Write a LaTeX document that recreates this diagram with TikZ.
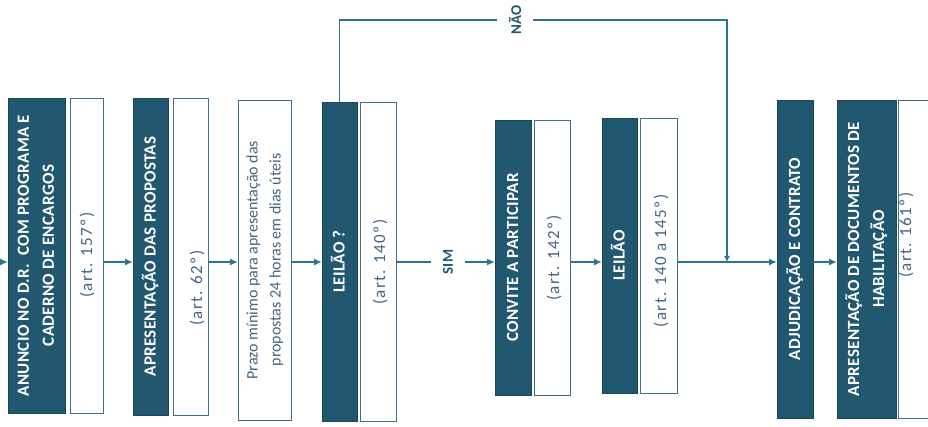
\documentclass[tikz,border=0pt]{standalone}
\usepackage{fontspec}
\setmainfont{Carlito}
\usetikzlibrary{arrows.meta,calc}
\definecolor{darkb}{RGB}{33,88,112}
\definecolor{linec}{RGB}{42,118,140}
\definecolor{edgec}{RGB}{70,110,135}
\definecolor{artc}{RGB}{70,100,130}
\tikzset{
  box/.style={rectangle, inner sep=0pt, outer sep=0pt, line width=0.8pt},
  dbox/.style={box, fill=darkb, draw=darkb!80!black, text=white, font=\bfseries\fontsize{17}{25}\selectfont\addfontfeatures{LetterSpace=2}},
  wbox/.style={box, fill=white, draw=edgec},
  arttext/.style={inner sep=0pt, text=artc, font=\fontsize{17}{20}\selectfont\addfontfeatures{LetterSpace=8}},
  conn/.style={draw=linec, line width=1.8pt},
  arr/.style={conn, -{Latex[length=8pt,width=7pt]}},
  lab/.style={inner sep=0pt, text=darkb, font=\bfseries\fontsize{15}{17}\selectfont},
}
\newcommand{\rot}[1]{\rotatebox{90}{\begin{tabular}{@{}c@{}}#1\end{tabular}}}
\begin{document}
\begin{tikzpicture}[x=1pt,y=-1pt]
\useasboundingbox[fill=white] (0,0) rectangle (928,427);
% boxes
\node[dbox, minimum width=57pt, minimum height=315pt] (d1) at (36.5,255.5) {\rot{ANUNCIO NO D.R.\ \ COM PROGRAMA E\\CADERNO DE ENCARGOS}};
\node[wbox, minimum width=33pt, minimum height=315pt] (w1) at (86.5,255.5) {};
\node[dbox, minimum width=35pt, minimum height=317pt] (d2) at (150.5,256.5) {\rot{APRESENTAÇÃO DAS PROPOSTAS}};
\node[wbox, minimum width=35pt, minimum height=317pt] (w2) at (190.5,256.5) {};
\node[wbox, minimum width=53pt, minimum height=320pt, text=artc, font=\fontsize{16}{23}\selectfont] (w3) at (264.5,260) {\rot{Prazo mínimo para apresentação das\\propostas 24 horas em dias úteis}};
\node[dbox, minimum width=35pt, minimum height=319pt] (d4) at (339.5,261.5) {\rot{LEILÃO ?}};
\node[wbox, minimum width=36pt, minimum height=319pt] (w4) at (378,261.5) {};
\node[dbox, minimum width=36pt, minimum height=275pt] (d5) at (513,257.5) {\rot{CONVITE A PARTICIPAR}};
\node[wbox, minimum width=36pt, minimum height=275pt] (w5) at (552,257.5) {};
\node[dbox, minimum width=35pt, minimum height=275pt] (d6) at (619.5,255.5) {\rot{LEILÃO}};
\node[wbox, minimum width=37pt, minimum height=275pt] (w6) at (658.5,255.5) {};
\node[dbox, minimum width=36pt, minimum height=318pt] (d7) at (795,259) {\rot{ADJUDICAÇÃO E CONTRATO}};
\node[dbox, minimum width=59pt, minimum height=318pt] (d8) at (866.5,259) {\rot{APRESENTAÇÃO DE DOCUMENTOS DE\\HABILITAÇÃO}};
\node[wbox, minimum width=42pt, minimum height=318pt] (w8) at (919,259) {};
% article texts
\node[arttext] (t1) at (87,255) {\rotatebox{90}{(art. 157º)}};
\node[arttext] (t2) at (197,288) {\rotatebox{90}{(art. 62º)}};
\node[arttext] (t4) at (380,262) {\rotatebox{90}{(art. 140º)}};
\node[arttext] (t5) at (554,258) {\rotatebox{90}{(art. 142º)}};
\node[arttext] (t6) at (661,261) {\rotatebox{90}{(art. 140 a 145º)}};
\node[arttext] (t8) at (906,235) {\rotatebox{90}{(art. 161º)}};
% labels
\node[lab, minimum width=33pt] (sim) at (448,262) {\rotatebox{90}{SIM}};
\node[lab, minimum width=36pt] (nao) at (515,20) {\rotatebox{90}{NÃO}};
% helper coordinates
\coordinate (ay) at (0,262);
\coordinate (start) at (0,262);
\coordinate (jn) at (727,262);
% connectors
\draw[arr] (start) -- (d1.west |- ay);
\draw[arr] (w1.east |- ay) -- (d2.west |- ay);
\draw[arr] (w2.east |- ay) -- (w3.west |- ay);
\draw[arr] (w3.east |- ay) -- (d4.west |- ay);
\draw[conn] (w4.east |- ay) -- (sim.west);
\draw[arr] (sim.east) -- (d5.west |- ay);
\draw[arr] (w5.east |- ay) -- (d6.west |- ay);
\draw[arr] (w6.east |- ay) -- (d7.west |- ay);
\draw[arr] (d7.east |- ay) -- (d8.west |- ay);
\draw[conn] (d4.north) |- (nao.west);
\draw[conn, -{Latex[length=6pt,width=6pt]}] (nao.east) -| (jn);
\end{tikzpicture}
\end{document}
